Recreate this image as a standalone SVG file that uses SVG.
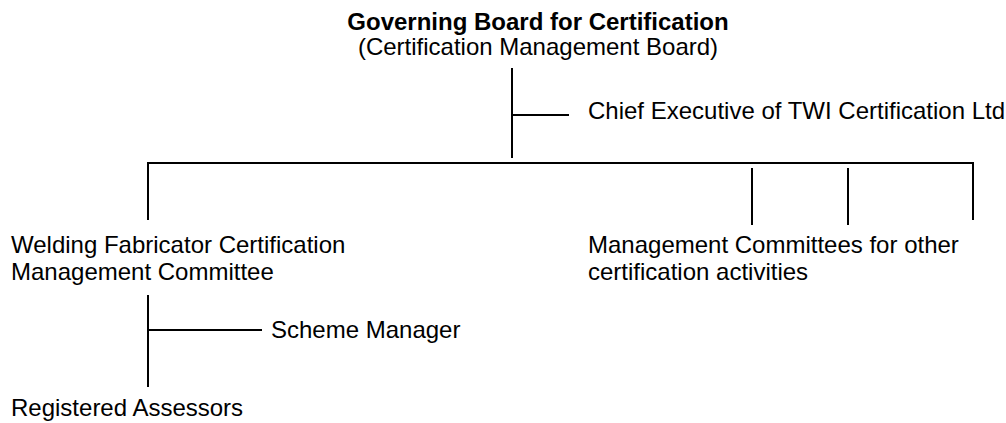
<svg xmlns="http://www.w3.org/2000/svg" width="1006" height="423" viewBox="0 0 1006 423">
<style>
text{font-family:"Liberation Sans",Arial,sans-serif;font-size:24px;fill:#000}
.b{font-weight:bold}
.c{stroke:#000;stroke-width:2;fill:none}
</style>
<rect width="1006" height="423" fill="#fff"/>
<g id="connectors" class="c">
<line x1="512" y1="68" x2="512" y2="158"/>
<line x1="512" y1="115" x2="569" y2="115"/>
<polyline points="148,220 148,163 973,163 973,220"/>
<line x1="752" y1="168" x2="752" y2="225"/>
<line x1="848" y1="168" x2="848" y2="225"/>
<line x1="148" y1="295" x2="148" y2="387"/>
<line x1="148" y1="330" x2="262" y2="330"/>
</g>
<g id="board"><text x="538" y="30" text-anchor="middle" class="b">Governing Board for Certification</text>
<text x="538" y="55" text-anchor="middle">(Certification Management Board)</text></g>
<g id="chief"><text x="588" y="119">Chief Executive of TWI Certification Ltd</text></g>
<g id="welding"><text x="11" y="253">Welding Fabricator Certification</text>
<text x="11" y="280">Management Committee</text></g>
<g id="other"><text x="588" y="253">Management Committees for other</text>
<text x="588" y="280">certification activities</text></g>
<g id="scheme"><text x="271" y="338">Scheme Manager</text></g>
<g id="assessors"><text x="11" y="416">Registered Assessors</text></g>
</svg>
